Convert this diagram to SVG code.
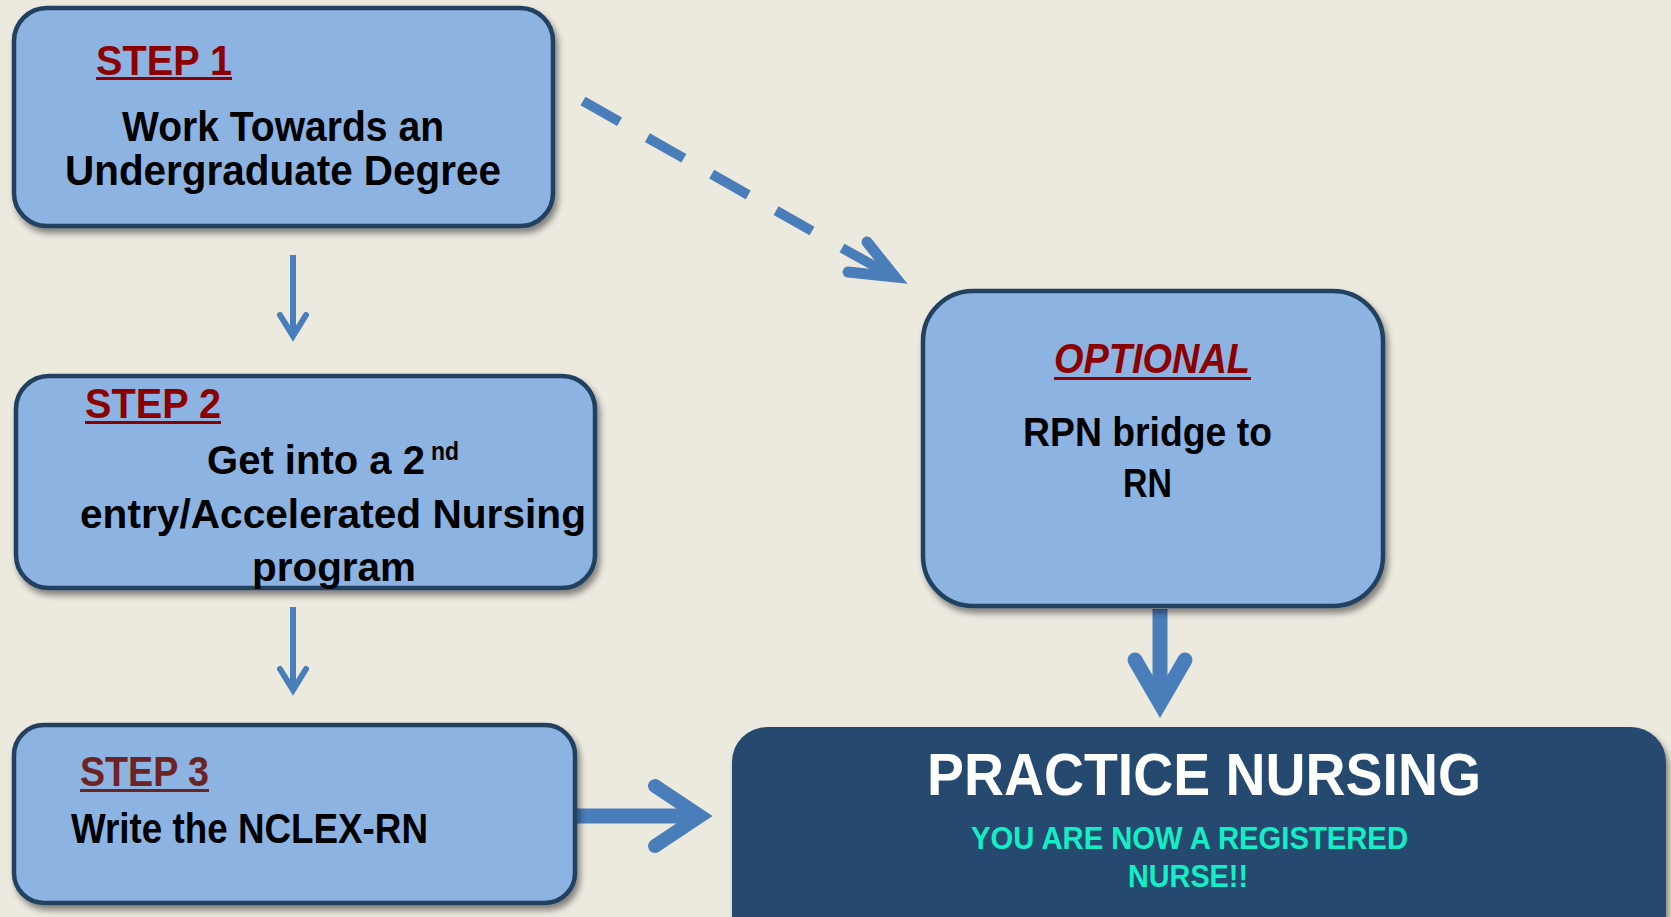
<svg xmlns="http://www.w3.org/2000/svg" width="1671" height="917" viewBox="0 0 1671 917">
<defs>
<filter id="sh" x="-10%" y="-10%" width="125%" height="130%">
<feDropShadow dx="3" dy="5" stdDeviation="3" flood-color="#000" flood-opacity="0.45"/>
</filter>
<style>
.box{fill:#8DB3E2;stroke:#243F60;stroke-width:4.5;filter:url(#sh)}
.dark{fill:#284870;filter:url(#sh)}
.t{font-family:"Liberation Sans Narrow","Liberation Sans",Arial,sans-serif;font-weight:bold;fill:#000}
.red{fill:#8B0000}
.brown{fill:#6B2323}
.ul{fill:#8B0000}
.arr{fill:none;stroke:#4A7EBB;stroke-linecap:round;stroke-linejoin:miter;stroke-miterlimit:6}
.shaft{fill:none;stroke:#4A7EBB;stroke-linecap:butt}
.teal{font-family:"Liberation Sans Narrow","Liberation Sans",Arial,sans-serif;font-weight:bold;fill:#12EFC6}
</style>
</defs>
<rect width="1671" height="917" fill="#ECE9DF"/>

<g id="connectors">
<line class="shaft" x1="293" y1="255" x2="293" y2="336" stroke-width="6"/>
<polyline class="arr" points="280,315 293,336 306,315" stroke-width="6"/>
<line class="shaft" x1="293" y1="607" x2="293" y2="690" stroke-width="6"/>
<polyline class="arr" points="280,669 293,690 306,669" stroke-width="6"/>
<line class="shaft" x1="583" y1="101" x2="812" y2="231" stroke-width="10" stroke-dasharray="42 32"/>
<line class="shaft" x1="842" y1="248" x2="896" y2="278" stroke-width="10"/>
<polyline class="arr" points="867,242 895,277 848,272" stroke-width="11"/>
<line class="shaft" x1="1160" y1="609" x2="1160" y2="703" stroke-width="15"/>
<polyline class="arr" points="1135,660 1160,703 1185,660" stroke-width="15"/>
<line class="shaft" x1="575" y1="816" x2="700" y2="816" stroke-width="15"/>
<polyline class="arr" points="655,786 700,816 655,846" stroke-width="14"/>
</g>

<g id="step1">
<rect class="box" x="14" y="8" width="539" height="218" rx="33"/>
<text class="t red" x="96" y="75" font-size="42" textLength="136" lengthAdjust="spacingAndGlyphs">STEP 1</text>
<rect class="ul" x="96" y="77" width="136" height="3"/>
<text class="t" x="122" y="141" font-size="42" textLength="322" lengthAdjust="spacingAndGlyphs">Work Towards an</text>
<text class="t" x="65" y="185" font-size="42" textLength="436" lengthAdjust="spacingAndGlyphs">Undergraduate Degree</text>
</g>

<g id="step2">
<rect class="box" x="16" y="376" width="579" height="212" rx="33"/>
<text class="t red" x="85" y="418" font-size="42" textLength="136" lengthAdjust="spacingAndGlyphs">STEP 2</text>
<rect class="ul" x="85" y="421" width="136" height="3"/>
<text class="t" x="207" y="474" font-size="41" textLength="218" lengthAdjust="spacingAndGlyphs">Get into a 2</text>
<text class="t" x="431" y="460" font-size="25" textLength="28" lengthAdjust="spacingAndGlyphs">nd</text>
<text class="t" x="80" y="528" font-size="41" textLength="506" lengthAdjust="spacingAndGlyphs">entry/Accelerated Nursing</text>
<text class="t" x="252" y="581" font-size="41" textLength="164" lengthAdjust="spacingAndGlyphs">program</text>
</g>

<g id="step3">
<rect class="box" x="14" y="725" width="561" height="178" rx="30"/>
<text class="t brown" x="80" y="786" font-size="42" textLength="129" lengthAdjust="spacingAndGlyphs">STEP 3</text>
<rect x="80" y="789" width="129" height="3" fill="#6B2323"/>
<text class="t" x="71" y="843" font-size="42" textLength="357" lengthAdjust="spacingAndGlyphs">Write the NCLEX-RN</text>
</g>

<g id="optional">
<rect class="box" x="923" y="291" width="460" height="315" rx="50"/>
<text class="t red" x="1054" y="373" font-size="42" font-style="italic" textLength="196" lengthAdjust="spacingAndGlyphs">OPTIONAL</text>
<rect class="ul" x="1054" y="377" width="197" height="3"/>
<text x="1023" y="446" font-size="40" font-family="'Liberation Sans',Arial,sans-serif" font-weight="bold" fill="#000" textLength="249" lengthAdjust="spacingAndGlyphs">RPN bridge to</text>
<text x="1123" y="497" font-size="40" font-family="'Liberation Sans',Arial,sans-serif" font-weight="bold" fill="#000" textLength="49" lengthAdjust="spacingAndGlyphs">RN</text>
</g>

<g id="practice">
<rect class="dark" x="732" y="727" width="934" height="230" rx="35"/>
<text x="927" y="795" font-size="59" font-family="'Liberation Sans Narrow','Liberation Sans',Arial,sans-serif" font-weight="bold" fill="#FFFFFF" textLength="554" lengthAdjust="spacingAndGlyphs">PRACTICE NURSING</text>
<text class="teal" x="971" y="849" font-size="31" textLength="437" lengthAdjust="spacingAndGlyphs">YOU ARE NOW  A REGISTERED</text>
<text class="teal" x="1128" y="887" font-size="31" textLength="120" lengthAdjust="spacingAndGlyphs">NURSE!!</text>
</g>
</svg>
